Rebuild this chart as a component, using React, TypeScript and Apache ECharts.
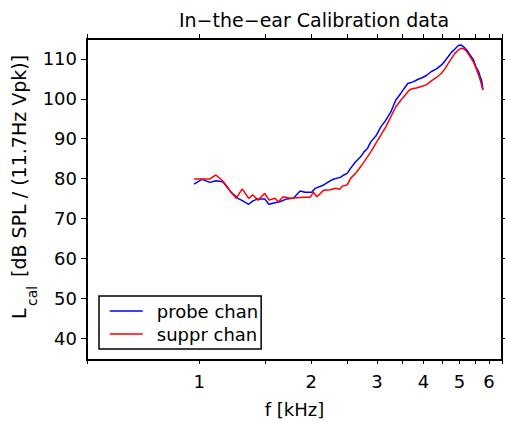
import React, { useEffect, useRef } from "react";
import * as echarts from "echarts";

const TITLE = "In\u2212the\u2212ear Calibration data";
const X_NAME = "f [kHz]";
const Y_MAIN = "L";
const Y_SUB = "cal";
const Y_REST = " [dB SPL / (11.7Hz Vpk)]";
const SERIES_NAMES = ["probe chan", "suppr chan"];
const SERIES_COLORS = ["#0000ff", "#ff0000"];

const X_MIN_KHZ = 0.5;
const X_MAX_KHZ = 6.5;
const Y_MIN = 34.5;
const Y_MAX = 115;
const X_TICKS_KHZ = [0.5, 1, 1.5, 2, 2.5, 3, 3.5, 4, 4.5, 5, 5.5, 6, 6.5];
const X_LABELS_KHZ = [1, 2, 3, 4, 5, 6];
const Y_TICKS = [40, 50, 60, 70, 80, 90, 100, 110];

const probeFreq = [0.969, 1.017, 1.069, 1.109, 1.157, 1.176, 1.219, 1.27, 1.31, 1.358, 1.394, 1.439, 1.5, 1.538, 1.597, 1.647, 1.718, 1.79, 1.866, 1.925, 2.007, 2.049, 2.16, 2.252, 2.299, 2.394, 2.445, 2.497, 2.549, 2.63, 2.712, 2.77, 2.83, 2.889, 2.98, 3.074, 3.17, 3.27, 3.37, 3.477, 3.55, 3.63, 3.75, 3.86, 3.98, 4.072, 4.202, 4.335, 4.473, 4.566, 4.664, 4.76, 4.859, 4.963, 5.044, 5.12, 5.227, 5.336, 5.45, 5.529, 5.623, 5.679, 5.739, 5.775];
const probeLevel = [78.6, 79.8, 79.05, 79.45, 79.2, 78.4, 76.55, 75.05, 74.4, 73.55, 74.4, 74.9, 74.9, 73.55, 73.95, 74.2, 74.9, 75.05, 76.9, 76.55, 76.55, 77.55, 78.4, 79.5, 79.9, 80.3, 80.9, 81.3, 82.55, 84.2, 85.45, 86.7, 87.55, 89.2, 90.65, 92.95, 94.65, 96.7, 99.65, 101.35, 102.6, 103.85, 104.25, 104.85, 105.35, 105.85, 106.85, 107.5, 108.5, 109.5, 110.6, 111.7, 112.5, 113.35, 113.5, 113.1, 112.25, 111, 109.75, 108.1, 106.85, 105.6, 104.35, 102.25];

const supprFreq = [0.969, 1.021, 1.069, 1.109, 1.157, 1.18, 1.219, 1.257, 1.305, 1.358, 1.394, 1.439, 1.5, 1.54, 1.597, 1.632, 1.68, 1.755, 1.83, 1.905, 1.986, 2.027, 2.07, 2.16, 2.252, 2.322, 2.385, 2.421, 2.497, 2.549, 2.63, 2.712, 2.77, 2.83, 2.889, 2.98, 3.074, 3.17, 3.27, 3.37, 3.477, 3.57, 3.66, 3.72, 3.83, 3.947, 4.072, 4.202, 4.335, 4.473, 4.566, 4.664, 4.76, 4.859, 4.963, 5.06, 5.14, 5.227, 5.336, 5.45, 5.56, 5.679, 5.775];
const supprLevel = [79.9, 79.9, 79.9, 80.9, 79.4, 78.4, 76.55, 75.05, 77.4, 75.05, 75.9, 74.6, 76.3, 74.6, 75.05, 74.2, 75.45, 75.05, 75.2, 75.3, 75.3, 76.6, 75.45, 77.1, 77.2, 77.55, 77.3, 78.1, 78.4, 80.05, 81.3, 82.95, 84.2, 85.45, 86.7, 88.8, 90.9, 92.95, 95.5, 97.95, 99.65, 100.9, 102.15, 102.5, 102.7, 103.1, 103.5, 104.5, 105.35, 106.4, 107.5, 108.9, 110.2, 111.4, 112.25, 112.7, 112.5, 111.85, 110.6, 109.2, 107.25, 104.75, 102.25];

const FONT = "'DejaVu Sans', 'Liberation Sans', sans-serif";
const lg = (v: number) => Math.log10(v);

export default function App() {
  const ref = useRef<HTMLDivElement>(null);
  useEffect(() => {
    document.body.style.margin = "0";
    if (!ref.current) return;
    const chart = echarts.init(ref.current, undefined, { renderer: "svg" });
    const xTicks = X_TICKS_KHZ.map(lg);
    const xLabels = X_LABELS_KHZ.map(lg);
    const xBase = {
      type: "value" as const,
      min: lg(X_MIN_KHZ),
      max: lg(X_MAX_KHZ),
      splitLine: { show: false },
      axisLine: { show: true, onZero: false, lineStyle: { color: "#000", width: 2 } },
    };
    const yBase = {
      type: "value" as const,
      min: Y_MIN,
      max: Y_MAX,
      splitLine: { show: false },
      axisLine: { show: true, onZero: false, lineStyle: { color: "#000", width: 2 } },
    };
    chart.setOption({
      animation: false,
      backgroundColor: "#fff",
      grid: { left: 87, right: 3, top: 39, bottom: 63, containLabel: false },
      xAxis: [
        {
          ...xBase,
          position: "bottom",
          axisTick: { show: true, customValues: xTicks, length: 4, lineStyle: { color: "#000", width: 1 } },
          axisLabel: {
            show: true,
            customValues: xLabels,
            formatter: (v: number) => String(Math.round(Math.pow(10, v))),
            color: "#000",
            fontSize: 18,
            fontFamily: FONT,
            margin: 12,
          },
          name: X_NAME,
          nameLocation: "middle",
          nameGap: 40,
          nameTextStyle: { color: "#000", fontSize: 18, fontFamily: FONT },
        },
        {
          ...xBase,
          position: "top",
          axisTick: { show: true, customValues: xTicks, length: 5, lineStyle: { color: "#000", width: 1 } },
          axisLabel: { show: false },
        },
      ],
      yAxis: [
        {
          ...yBase,
          position: "left",
          axisTick: { show: true, customValues: Y_TICKS, length: 6, lineStyle: { color: "#000", width: 1 } },
          axisLabel: {
            show: true,
            customValues: Y_TICKS,
            color: "#000",
            fontSize: 18,
            fontFamily: FONT,
            margin: 10,
          },
        },
        {
          ...yBase,
          position: "right",
          axisTick: { show: true, customValues: Y_TICKS, length: 5, lineStyle: { color: "#000", width: 1 } },
          axisLabel: { show: false },
        },
      ],
      legend: {
        data: SERIES_NAMES,
        orient: "vertical",
        left: 99,
        top: 296,
        backgroundColor: "#fff",
        borderColor: "#000",
        borderWidth: 1.5,
        borderRadius: 0,
        padding: [5, 3, 5, 10],
        itemWidth: 33,
        itemHeight: 14,
        itemGap: 3,
        itemStyle: { opacity: 0 },
        lineStyle: { width: 1.5 },
        textStyle: { color: "#000", fontSize: 18, fontFamily: FONT, lineHeight: 20, padding: [0, 0, 0, 9] },
      },
      graphic: [
        {
          type: "text",
          x: 314,
          y: 20,
          style: { text: TITLE, fill: "#000", fontSize: 19, fontFamily: FONT, textAlign: "center", textVerticalAlign: "middle" },
        },
        {
          type: "group",
          x: 18.5,
          y: 319,
          rotation: Math.PI / 2,
          children: [
            { type: "text", x: 0, y: 0, style: { text: Y_MAIN, fill: "#000", fontSize: 19, fontFamily: FONT, textAlign: "left", textVerticalAlign: "middle" } },
            { type: "text", x: 13, y: 13, style: { text: Y_SUB, fill: "#000", fontSize: 14, fontFamily: FONT, textAlign: "left", textVerticalAlign: "middle" } },
            { type: "text", x: 36, y: 0, style: { text: Y_REST, fill: "#000", fontSize: 19, fontFamily: FONT, textAlign: "left", textVerticalAlign: "middle" } },
          ],
        },
      ],
      series: [
        {
          name: SERIES_NAMES[0],
          type: "line",
          xAxisIndex: 0,
          yAxisIndex: 0,
          symbol: "none",
          color: SERIES_COLORS[0],
          lineStyle: { width: 1.5, color: SERIES_COLORS[0] },
          data: probeFreq.map((f, i) => [lg(f), probeLevel[i]]),
        },
        {
          name: SERIES_NAMES[1],
          type: "line",
          xAxisIndex: 0,
          yAxisIndex: 0,
          symbol: "none",
          color: SERIES_COLORS[1],
          lineStyle: { width: 1.5, color: SERIES_COLORS[1] },
          data: supprFreq.map((f, i) => [lg(f), supprLevel[i]]),
        },
      ],
    });
    return () => chart.dispose();
  }, []);
  return <div ref={ref} style={{ width: 505, height: 423, overflow: "hidden" }} />;
}
